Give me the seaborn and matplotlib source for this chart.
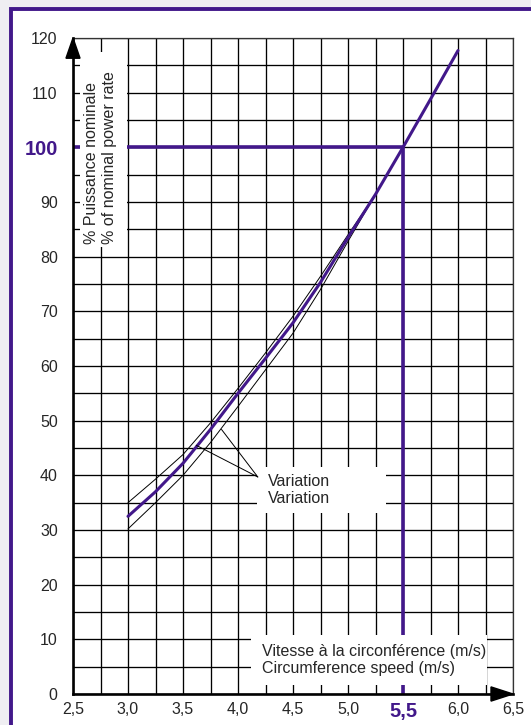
import numpy as np
import matplotlib.pyplot as plt
from matplotlib.patches import Rectangle, Polygon
import seaborn as sns

# Main power curve
speed = [3.0, 3.25, 3.5, 3.75, 4.0, 4.25, 4.5, 4.75, 5.0, 5.25, 5.5, 5.75, 6.0]
power = [32.5, 37.0, 42.2, 48.4, 55.0, 61.4, 67.9, 75.3, 83.5, 91.4, 100.0, 108.8, 117.7]

# Variation band
var_speed = [3.0, 3.25, 3.5, 3.75, 4.0, 4.25, 4.5, 4.75, 5.0, 5.25]
var_upper = [35.0, 39.3, 43.8, 49.6, 55.9, 62.4, 69.1, 76.4, 84.0, 91.4]
var_lower = [30.2, 35.0, 40.0, 46.0, 52.6, 59.3, 66.0, 74.0, 82.8, 91.4]

# nominal point
nom_speed = 5.5
nom_power = 100

x_ticks = [2.5, 3.0, 3.5, 4.0, 4.5, 5.0, 5.5, 6.0, 6.5]
x_labels = ["2,5", "3,0", "3,5", "4,0", "4,5", "5,0", "5,5", "6,0", "6,5"]
y_ticks = [0, 10, 20, 30, 40, 50, 60, 70, 80, 90, 100, 110, 120]
y_labels = [str(v) for v in y_ticks]

purple = "#42188a"

sns.set_style("white")
plt.rcParams['font.family'] = ['Liberation Sans', 'DejaVu Sans']

fig = plt.figure(figsize=(5.31, 7.25), dpi=100, facecolor="#efeef2")
# purple frame
frame = Rectangle((11 / 531, -0.1), 2, 1.1 - 9 / 725, transform=fig.transFigure,
                  facecolor="white", edgecolor=purple, lw=2.8, zorder=0)
fig.add_artist(frame)

ax = fig.add_axes([73 / 531, 1 - 694 / 725, 440 / 531, 656 / 725])
ax.set_facecolor("white")
ax.set_xlim(2.5, 6.5)
ax.set_ylim(0, 120)

# grid
ax.set_xticks(x_ticks)
ax.set_xticklabels(x_labels)
ax.set_yticks(y_ticks)
ax.set_yticklabels(y_labels)
ax.set_xticks(np.arange(2.5, 6.51, 0.25), minor=True)
ax.set_yticks(np.arange(0, 121, 5), minor=True)
ax.grid(True, which="both", color="black", lw=0.95)
ax.set_axisbelow(True)
ax.tick_params(which="both", length=0)
ax.tick_params(axis="y", pad=11, labelsize=11.5)
ax.tick_params(axis="x", pad=6, labelsize=11.5)

for side in ["top", "right"]:
    ax.spines[side].set_visible(True)
    ax.spines[side].set_linewidth(0.9)
    ax.spines[side].set_color("#333333")
for side in ["left", "bottom"]:
    ax.spines[side].set_linewidth(1.9)
    ax.spines[side].set_color("black")
    ax.spines[side].set_zorder(5)

# highlight nominal tick labels
for lbl in ax.get_xticklabels():
    if lbl.get_text() == "5,5":
        lbl.set_color(purple)
        lbl.set_fontweight("bold")
        lbl.set_fontsize(14.5)
for lbl in ax.get_yticklabels():
    if lbl.get_text() == "100":
        lbl.set_color(purple)
        lbl.set_fontweight("bold")
        lbl.set_fontsize(14.5)

# axis arrows
ax.add_patch(Polygon([[2.5, 120], [2.436, 116.3], [2.564, 116.3]], closed=True,
                     color="black", clip_on=False, zorder=6))
ax.add_patch(Polygon([[6.5, 0], [6.3, 1.3], [6.3, -1.3]], closed=True,
                     color="black", clip_on=False, zorder=6))

# nominal guide lines
ax.plot([2.5, nom_speed], [nom_power, nom_power], color=purple, lw=2.6, zorder=2.5,
        solid_capstyle="butt")
ax.plot([nom_speed, nom_speed], [0, nom_power], color=purple, lw=2.6, zorder=2.5,
        solid_capstyle="butt")

# curves
sns.lineplot(x=var_speed, y=var_upper, ax=ax, color="black", lw=0.7, zorder=2.6)
sns.lineplot(x=var_speed, y=var_lower, ax=ax, color="black", lw=0.7, zorder=2.6)
sns.lineplot(x=speed, y=power, ax=ax, color=purple, lw=2.2, zorder=2.7)

# white label boxes
ax.add_patch(Rectangle((2.565, 81.7), 0.425, 35.7, facecolor="white", edgecolor="none",
                       zorder=3))
ax.text(2.75, 82.4, "% Puissance nominale\n% of nominal power rate", rotation=90,
        ha="center", va="bottom", multialignment="left", fontsize=11.5, zorder=4)

ax.add_patch(Rectangle((4.17, 33.1), 1.18, 8.4, facecolor="white", edgecolor="none",
                       zorder=3))
ax.text(4.27, 37.3, "Variation\nVariation", ha="left", va="center", fontsize=11.5,
        zorder=4)
ax.plot([4.18, 3.62], [39.7, 45.5], color="black", lw=0.7, zorder=4)
ax.plot([4.18, 3.85], [39.7, 48.4], color="black", lw=0.7, zorder=4)

ax.add_patch(Rectangle((4.12, 1.65), 2.14, 9.15, facecolor="white", edgecolor="none",
                       zorder=3))
ax.text(4.215, 6.2, "Vitesse à la circonférence (m/s)\nCircumference speed (m/s)",
        ha="left", va="center", fontsize=11.5, zorder=4)

fig.savefig("out.png", dpi=100, facecolor=fig.get_facecolor())
